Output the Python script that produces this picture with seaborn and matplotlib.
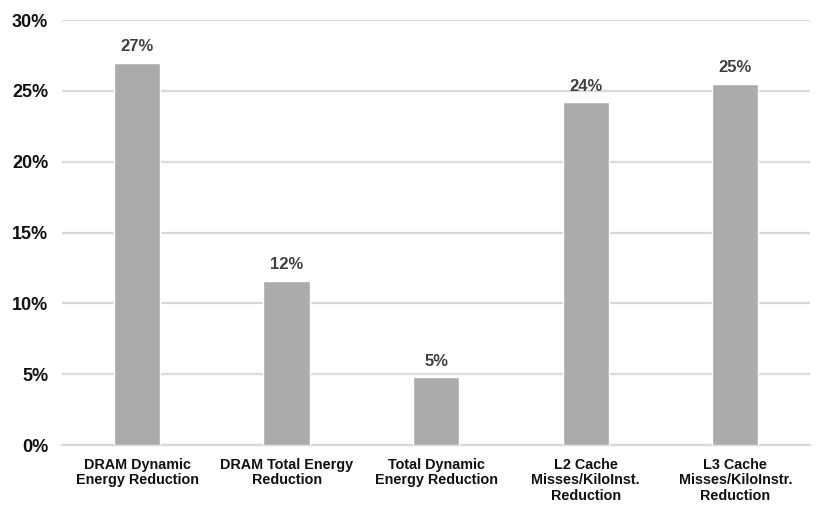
import matplotlib
matplotlib.use("Agg")
import matplotlib.pyplot as plt
import numpy as np
import pandas as pd
import seaborn as sns
from matplotlib.ticker import PercentFormatter

categories = [
    "DRAM Dynamic\nEnergy Reduction",
    "DRAM Total Energy\nReduction",
    "Total Dynamic\nEnergy Reduction",
    "L2 Cache\nMisses/KiloInst.\nReduction",
    "L3 Cache\nMisses/KiloInstr.\nReduction",
]
values = [27.0, 11.6, 4.8, 24.2, 25.5]
value_labels = ["27%", "12%", "5%", "24%", "25%"]

sns.set_theme(style="white")
plt.rcParams["font.family"] = ["Liberation Sans Narrow", "Liberation Sans", "DejaVu Sans"]

df = pd.DataFrame({"category": categories, "value": values})

fig = plt.figure(figsize=(8.3, 5.17), dpi=100)
ax = fig.add_axes([0.075, 0.139, 0.901, 0.822])

sns.barplot(data=df, x="category", y="value", color="#ADAAAA", saturation=1,
            width=0.31, ax=ax, zorder=3)

ax.set_ylim(0, 30)
ax.set_xlim(-0.5, len(categories) - 0.5)
ax.set_yticks(np.arange(0, 31, 5))
ax.yaxis.set_major_formatter(PercentFormatter(decimals=0))
ax.grid(axis="y", color="#D9D9D9", linewidth=1.6, zorder=0)
ax.set_axisbelow(True)
for side in ["top", "right", "left"]:
    ax.spines[side].set_visible(False)
ax.spines["bottom"].set_color("#D9D9D9")
ax.spines["bottom"].set_linewidth(1.6)

ax.set_xlabel("")
ax.set_ylabel("")
ax.tick_params(axis="y", length=0, pad=10, labelsize=13)
ax.tick_params(axis="x", length=0, pad=9, labelsize=10.4)
for lab in ax.get_yticklabels():
    lab.set_fontweight("bold")
    lab.set_color("#111111")
for lab in ax.get_xticklabels():
    lab.set_fontweight("bold")
    lab.set_color("#111111")
    lab.set_linespacing(1.15)

for i, (v, t) in enumerate(zip(values, value_labels)):
    ax.text(i, v + 0.6, t, ha="center", va="bottom", fontsize=12,
            fontweight="bold", color="#404040")

fig.savefig("out.png", dpi=100)
